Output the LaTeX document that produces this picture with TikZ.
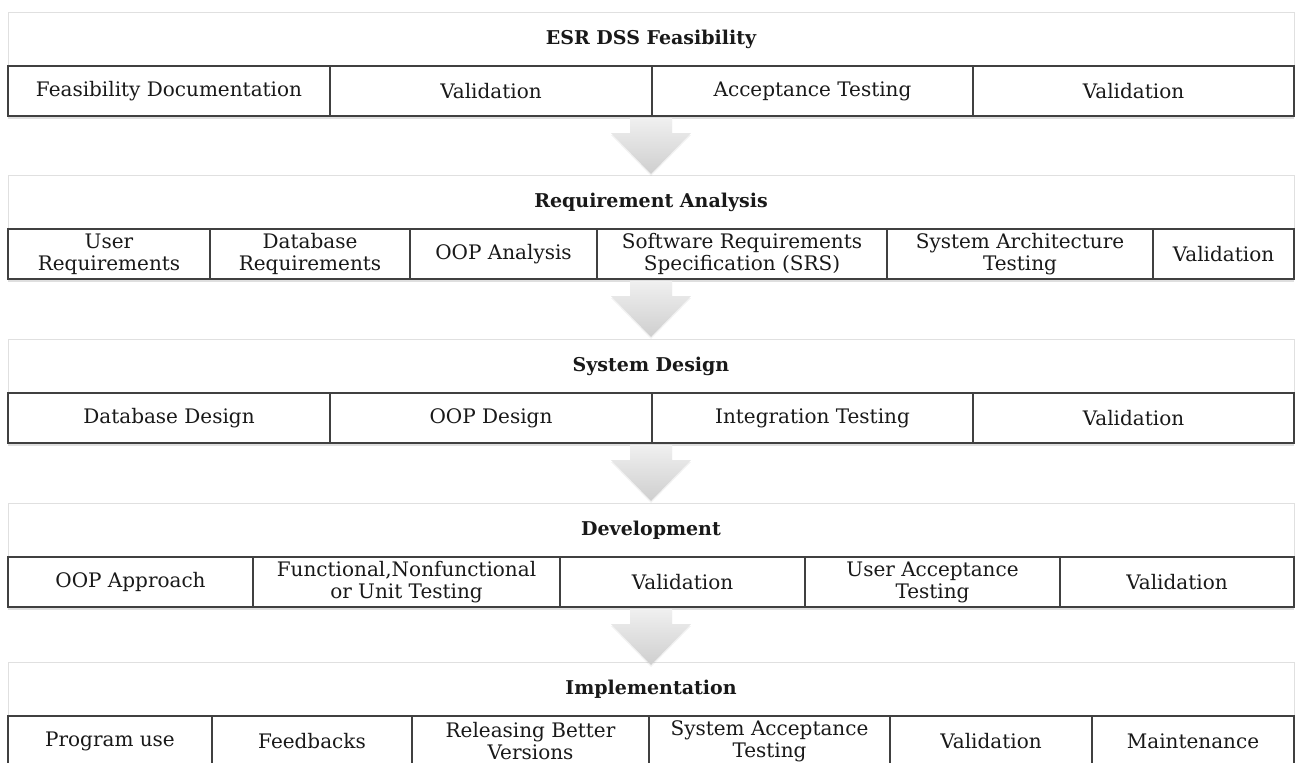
\documentclass[tikz,border=0pt]{standalone}
\usepackage{fontspec}
\setmainfont{DejaVu Serif}
\usetikzlibrary{positioning,calc,shadows}

\begin{document}
\begin{tikzpicture}[
    x=1pt, y=1pt,
    panel/.style={rectangle, draw=black!12, fill=white, minimum width=1286pt,
        minimum height=54pt, outer sep=0pt, text=black!90,
        font=\fontsize{19}{21}\selectfont\bfseries},
    cell/.style={rectangle, draw=black!75, line width=1.3pt, fill=white,
        minimum height=50pt, inner sep=2pt, outer sep=0pt, align=center,
        text=black!90, font=\fontsize{20}{22}\selectfont,
        drop shadow={shadow xshift=0pt, shadow yshift=-2.5pt, opacity=.25}},
    blockarrow/.style={top color=black!6, bottom color=black!19, draw=none,
        drop shadow={shadow xshift=0pt, shadow yshift=-2pt, opacity=.1}}
]
    \useasboundingbox (0,0) rectangle (1296,-763);
    \clip (0,0) rectangle (1296,-763);

    \node[panel] (p1) at (651,-39) {ESR DSS Feasibility};
    \node[cell, minimum width=322pt, anchor=north west] (r1a) at (p1.south west) {Feasibility Documentation};
    \node[cell, minimum width=322pt, right=0pt of r1a] (r1b) {Validation};
    \node[cell, minimum width=321pt, right=0pt of r1b] (r1c) {Acceptance Testing};
    \node[cell, minimum width=321pt, right=0pt of r1c] (r1d) {Validation};
    \coordinate (a1) at ($(p1.south)+(0,-52)$);

    \node[panel] (p2) at (651,-202) {Requirement Analysis};
    \node[cell, minimum width=202pt, anchor=north west] (r2a) at (p2.south west) {User\\Requirements};
    \node[cell, minimum width=200pt, right=0pt of r2a] (r2b) {Database\\Requirements};
    \node[cell, minimum width=187pt, right=0pt of r2b] (r2c) {OOP Analysis};
    \node[cell, minimum width=290pt, right=0pt of r2c] (r2d) {Software Requirements\\Specification (SRS)};
    \node[cell, minimum width=266pt, right=0pt of r2d] (r2e) {System Architecture\\Testing};
    \node[cell, minimum width=141pt, right=0pt of r2e] (r2f) {Validation};
    \coordinate (a2) at ($(p2.south)+(0,-52)$);

    \node[panel] (p3) at (651,-366) {System Design};
    \node[cell, minimum width=322pt, anchor=north west] (r3a) at (p3.south west) {Database Design};
    \node[cell, minimum width=322pt, right=0pt of r3a] (r3b) {OOP Design};
    \node[cell, minimum width=321pt, right=0pt of r3b] (r3c) {Integration Testing};
    \node[cell, minimum width=321pt, right=0pt of r3c] (r3d) {Validation};
    \coordinate (a3) at ($(p3.south)+(0,-52)$);

    \node[panel] (p4) at (651,-530) {Development};
    \node[cell, minimum width=245pt, anchor=north west] (r4a) at (p4.south west) {OOP Approach};
    \node[cell, minimum width=307pt, right=0pt of r4a] (r4b) {Functional,Nonfunctional\\or Unit Testing};
    \node[cell, minimum width=245pt, right=0pt of r4b] (r4c) {Validation};
    \node[cell, minimum width=255pt, right=0pt of r4c] (r4d) {User Acceptance\\Testing};
    \node[cell, minimum width=234pt, right=0pt of r4d] (r4e) {Validation};
    \coordinate (a4) at ($(p4.south)+(0,-52)$);

    \node[panel] (p5) at (651,-689) {Implementation};
    \node[cell, minimum width=204pt, anchor=north west] (r5a) at (p5.south west) {Program use};
    \node[cell, minimum width=200pt, right=0pt of r5a] (r5b) {Feedbacks};
    \node[cell, minimum width=237pt, right=0pt of r5b] (r5c) {Releasing Better\\Versions};
    \node[cell, minimum width=241pt, right=0pt of r5c] (r5d) {System Acceptance\\Testing};
    \node[cell, minimum width=202pt, right=0pt of r5d] (r5e) {Validation};
    \node[cell, minimum width=202pt, right=0pt of r5e] (r5f) {Maintenance};

    \foreach \a in {a1,a2,a3,a4}
        \path[blockarrow] (\a) ++(-21,0) -- ++(42,0) -- ++(0,-15) -- ++(19,0)
            -- ++(-40,-41) -- ++(-40,41) -- ++(19,0) -- cycle;
\end{tikzpicture}
\end{document}
